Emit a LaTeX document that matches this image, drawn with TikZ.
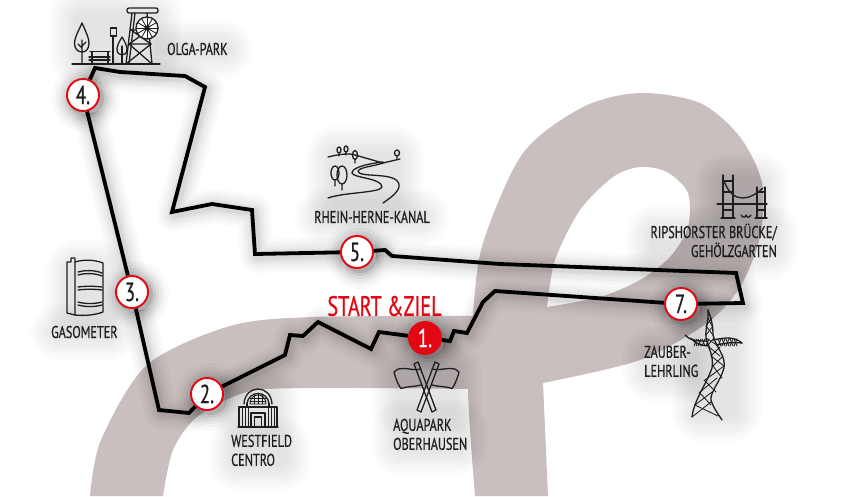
\documentclass[tikz,border=0pt]{standalone}
\usepackage{fontspec}
\setmainfont[FakeStretch=0.72,FakeBold=0.6]{PT Sans}
\definecolor{bandcol}{HTML}{C9BFBF}
\definecolor{mapred}{HTML}{E30613}
\definecolor{inkcol}{HTML}{1E1E1E}
\pgfdeclarelayer{backdrop}
\pgfdeclarelayer{routelayer}
\pgfsetlayers{backdrop,routelayer,main}
\tikzset{
  stopmark/.style={circle,draw=mapred,fill=white,line width=1.9pt,minimum size=32pt,inner sep=0pt,text=inkcol,font=\fontsize{26}{26}\selectfont},
  startmark/.style={stopmark,fill=mapred,text=white},
  maptext/.style={inner sep=0pt,text=inkcol,font=\fontsize{17}{19}\selectfont},
  headtext/.style={inner sep=0pt,text=mapred,font=\fontsize{28}{28}\selectfont},
  icon/.style={draw=inkcol,line width=1.3pt,line cap=round,line join=round},
  iconthin/.style={draw=inkcol,line width=.85pt,line cap=round,line join=round},
  routeline/.style={draw=black,line width=3.8pt,line join=miter},
}
\newcommand\softglow[4]{%
  \foreach \w in {24,21,18,15,12,9,6,3,0}{%
    \fill[black,opacity=.011,rounded corners=\w pt+6pt] ({#1-\w},{#2-\w}) rectangle ({#3+\w},{#4+\w});}}
\newcommand\circglow[2]{%
  \foreach \r/\o in {34/.025,30/.03,27/.04,24/.05,21/.08,18/.12}{%
    \fill[black,opacity=\o] ({#1+3},{#2+3}) circle[radius=\r pt];}}
\newcommand\routepath{(n1) -- (450,341) -- (454,331) -- (467,333) -- (483,302) -- (495,291) -- (n7) -- (743,303) -- (736,273) -- (500,264) -- (392,256) -- (385,250) -- (n5) -- (255,254) -- (252,210) -- (212,204) -- (172,212) -- (205,87) -- (185,76) -- (120,72) -- (95,68) -- (n4) -- (n3) -- (159,410) -- (189,413) -- (n2) -- (285,355) -- (290,335) -- (303,336) -- (318,322) -- (371,349) -- (379,332) -- (n1)}
\begin{document}
\begin{tikzpicture}[x=1pt,y=-1pt]
\useasboundingbox (0,0) rectangle (858,496);

% stops
\node[startmark] (n1) at (425,338) {1.};
\node[stopmark] (n2) at (207,394) {2.};
\node[stopmark] (n3) at (132,292) {3.};
\node[stopmark] (n4) at (83,95) {4.};
\node[stopmark] (n5) at (357,252) {5.};
\node[stopmark] (n7) at (681,304) {7.};

% labels
\node[headtext,anchor=center] (start) at (384.5,306) {START \&ZIEL};
\node[maptext,anchor=west] (olga) at (167,49) {OLGA-PARK};
\node[maptext,anchor=center] (rhein) at (372,217) {RHEIN-HERNE-KANAL};
\node[maptext,anchor=west] (gaso) at (51,332) {GASOMETER};
\node[maptext,anchor=north west,align=left] (west) at (231,434.5) {WESTFIELD\\CENTRO};
\node[maptext,anchor=north west,align=left] (aqua) at (393,418.5) {AQUAPARK\\OBERHAUSEN};
\node[maptext,anchor=north east,align=right] (rips) at (777,223.5) {RIPSHORSTER BRÜCKE/\\GEHÖLZGARTEN};
\node[maptext,anchor=north west,align=left] (zaub) at (644,345.5) {ZAUBER-\\LEHRLING};

\begin{pgfonlayer}{backdrop}
  \fill[white] (0,0) rectangle (858,496);
  % the large letter shape
  \fill[bandcol] plot[smooth] coordinates {(90,496) (101,440) (147,365) (230,326) (313,317) (480,316)}
     -- plot[smooth] coordinates {(480,389) (313,388) (247,392) (197,417) (173,450) (163,496)} -- cycle;
  \fill[bandcol,even odd rule] plot[smooth] coordinates {(475,496) (468,390) (473,313) (483,243) (523,153) (583,107) (640,93) (700,103) (740,137) (762,183) (760,237) (740,287) (707,323) (640,360) (543,383)} -- (548,496) -- cycle
     plot[smooth] coordinates {(547,307) (555,260) (580,210) (613,177) (640,167) (667,172) (688,193) (688,227) (670,257) (640,280) (600,297) (547,307)} -- cycle;
  % soft shadows
  \softglow{74}{12}{158}{62}
  \softglow{169}{44}{229}{54}
  \softglow{330}{150}{400}{202}
  \softglow{318}{213}{426}{221}
  \softglow{69}{264}{101}{313}
  \softglow{53}{328}{114}{336}
  \softglow{240}{390}{276}{425}
  \softglow{233}{440}{287}{467}
  \softglow{395}{364}{458}{410}
  \softglow{395}{424}{464}{451}
  \softglow{719}{177}{765}{216}
  \softglow{650}{229}{775}{256}
  \softglow{646}{351}{694}{378}
  \softglow{695}{320}{738}{418}
  \circglow{425}{338}\circglow{207}{394}\circglow{132}{292}\circglow{83}{95}\circglow{357}{252}\circglow{681}{304}
  \begin{scope}[transform canvas={shift={(2pt,-2pt)}}]
    \foreach \w/\o in {34/.018,28/.02,22/.022,17/.025,12/.03,8/.04}{
      \draw[black,opacity=\o,line width=\w pt,line join=round] \routepath;
    }
  \end{scope}
\end{pgfonlayer}

\begin{pgfonlayer}{routelayer}
  \draw[routeline] \routepath;
\end{pgfonlayer}

% Olga-Park icon
\draw[icon] (72,64) -- (160,64);
\draw[icon] (82,23) .. controls (78,32) and (74.5,38) .. (74.5,43) .. controls (74.5,49) and (78,52) .. (82,52) .. controls (86,52) and (89,49) .. (89,43) .. controls (89,38) and (86,32) .. (82,23);
\draw[icon] (82,40) -- (82,64) (82,48) -- (78,44) (82,46) -- (86,42);
\draw[icon] (90,51.5) -- (110,51.5) (89,57) -- (110,57) (89,60) -- (110,60) (92,51.5) -- (92,64) (108,51.5) -- (108,64);
\draw[icon] (113,36) -- (113,64) (110.5,28) rectangle (116.5,36);
\draw[icon] (122,37) .. controls (119,42) and (117,46) .. (117,49) .. controls (117,53) and (119,55) .. (122,55) .. controls (125,55) and (127,53) .. (127,49) .. controls (127,46) and (125,42) .. (122,37);
\draw[icon] (122,46) -- (122,64);
\draw[icon,rounded corners=2pt] (127,8) rectangle (158,13);
\draw[icon] (132,13) -- (126,64) (135,13) -- (129,64) (147,13) -- (152,64) (131,30) -- (149,30) (129,44) -- (151,44);
\draw[icon] (131,30) -- (151,44) (149,30) -- (129,44) (129,44) -- (152,64) (151,44) -- (126,64);
\draw[icon,fill=white] (147,28) circle[radius=11pt];
\foreach \a in {0,30,...,330}{\draw[iconthin] (147,28) -- ++(\a:11pt);}
\fill[inkcol] (147,28) circle[radius=2.5pt];

% Gasometer icon
\draw[icon] (67,262) -- (67,313) -- (75,315) (75,259) -- (75,315) (67,262) -- (71,262) -- (71,258) -- (75,258);
\draw[icon] (75,262) .. controls (85,259) and (95,260) .. (103,263) -- (103,312) .. controls (95,315) and (85,316) .. (75,315);
\draw[icon] (78,272) .. controls (85,270) and (95,270) .. (102,273) (78,275) .. controls (85,273) and (95,273) .. (102,276);
\draw[icon] (78,287) .. controls (85,286) and (95,286) .. (102,287) (78,290) .. controls (85,289) and (95,289) .. (102,290);
\draw[icon] (78,302) .. controls (85,304) and (95,304) .. (102,302) (78,305) .. controls (85,307) and (95,307) .. (102,305);

% Westfield icon
\draw[icon] (244,404) .. controls (245,384) and (271,384) .. (272,404);
\draw[icon] (247,404) .. controls (248,390) and (268,390) .. (269,404);
\draw[iconthin] (250,404) .. controls (250,392) and (266,392) .. (266,404) -- cycle;
\draw[iconthin] (254,394) -- (254,404) (258,393) -- (258,404) (262,394) -- (262,404) (250,398) -- (266,398) (250,401) -- (266,401);
\draw[icon] (238,427) -- (278,427) (239,427) -- (239,407) -- (247,407) -- (247,403) (277,427) -- (277,407) -- (269,407) -- (269,403) (247,407) -- (269,407);
\foreach \x in {242,245,248,268,271,274}{\draw[iconthin] (\x,408) -- (\x,427);}
\draw[icon] (251,427) -- (251,413) -- (265,413) -- (265,427) (254.5,427) -- (254.5,417) -- (261.5,417) -- (261.5,427);

% Rhein-Herne icon
\draw[icon] (328,157) .. controls (340,154) and (350,153) .. (355,155) -- (383,163) -- (400,159);
\draw[icon] (383,162) .. controls (365,164) and (352,168) .. (352,173) .. controls (353,178) and (382,178) .. (382,187) .. controls (380,193) and (345,192) .. (328,198);
\draw[icon] (383,203) .. controls (395,195) and (402,188) .. (398,182) .. controls (392,172) and (358,178) .. (358,171) .. controls (360,167) and (375,166) .. (383,163);
\draw[icon] (339,150) ellipse[x radius=2pt,y radius=3pt] (339,153) -- (339,156);
\draw[icon] (346,149) ellipse[x radius=2pt,y radius=3pt] (346,152) -- (346,155);
\draw[icon] (355,155) ellipse[x radius=2.5pt,y radius=4.5pt] (355,159) -- (355,163);
\draw[icon] (397,153) ellipse[x radius=2.5pt,y radius=3pt] (397,156) -- (397,159);
\draw[icon] (335,173) ellipse[x radius=4pt,y radius=7pt] (335,180) -- (335,186);
\draw[icon] (342,175) ellipse[x radius=5pt,y radius=9pt] (342,184) -- (342,190);

% Flags icon
\draw[icon] (414,364) -- (418,362) -- (436,410) -- (432,412) -- cycle;
\draw[icon] (439,364) -- (435,362) -- (417,410) -- (421,412) -- cycle;
\draw[icon] (421,369) .. controls (413,371) and (405,367) .. (398,369) -- (394,372) .. controls (396,380) and (399,386) .. (401,388.5) .. controls (408,386) and (414,387) .. (421,385);
\draw[icon] (432,369) .. controls (440,371) and (448,367) .. (455,369) -- (459,372) .. controls (457,380) and (454,386) .. (452,388.5) .. controls (445,386) and (439,387) .. (432,385);

% Bridge icon
\draw[icon] (723,175) -- (723,218) (733,175) -- (733,218) (757,187) -- (757,218) (765,187) -- (765,218);
\draw[icon] (723,181) -- (733,181) (723,192) -- (733,192) (723,210) -- (733,210) (757,192) -- (765,192) (757,210) -- (765,210) (721,218) -- (735,218) (755,218) -- (767,218);
\draw[icon] (717,204) -- (767,204);
\draw[icon] (724,181) .. controls (733,205) and (750,200) .. (763,188);
\draw[icon] (741,215) .. controls (743,218) and (745,218) .. (746,215) .. controls (747,218) and (749,218) .. (751,215);

% Pylon icon
\begin{scope}
  \draw[icon] (708,310) .. controls (711,318) and (713,325) .. (713,335) .. controls (716,348) and (726,355) .. (724,368) .. controls (720,382) and (710,392) .. (711,400) .. controls (713,407) and (718,414) .. (722,420);
  \draw[icon] (708,310) .. controls (709,320) and (705,328) .. (706,338) .. controls (708,348) and (714,355) .. (712,368) .. controls (706,385) and (694,400) .. (692,417);
  \foreach \a/\b/\c/\d in {708/318/712/326,712/318/706/326,706/326/713/335,713/326/706/335,706/338/717/345,714/338/708/345,709/347/720/356,720/347/711/356,711/356/724/366,723/356/713/366,713/366/722/378,724/366/705/380,704/380/716/392,717/378/700/392,699/392/711/405,712/392/695/405,695/405/718/416,711/402/692/417}{
    \draw[iconthin] (\a,\b) -- (\c,\d);
  }
  \draw[icon] (685,335) .. controls (692,342) and (700,341) .. (707,341);
  \draw[icon] (691,338) .. controls (697,346) and (703,345) .. (709,346);
  \draw[icon] (742,343) .. controls (735,337) and (727,337) .. (713,340);
  \draw[icon] (742,343) .. controls (733,342) and (725,343) .. (716,345);
  \foreach \x in {694,698,702,706,718,722,726,730,734}{\draw[iconthin] (\x,339) -- ({\x+3},346);\draw[iconthin] ({\x+3},339) -- (\x,346);}
\end{scope}
\end{tikzpicture}
\end{document}
